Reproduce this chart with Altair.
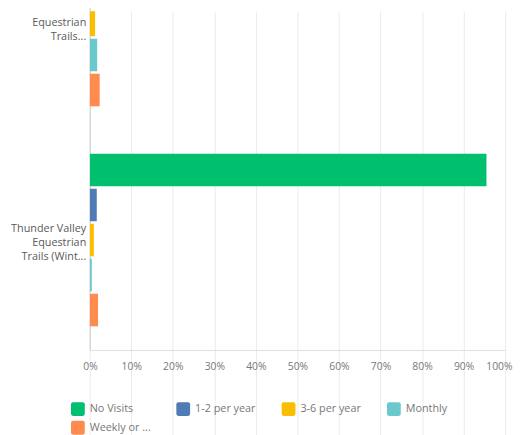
import altair as alt
import pandas as pd

categories = ["Equestrian Trails...", "Thunder Valley Equestrian Trails (Wint..."]
label_lines = [["", "Equestrian", "Trails..."],
               ["Thunder Valley", "Equestrian", "Trails (Wint..."]]
series = ["No Visits", "1-2 per year", "3-6 per year", "Monthly", "Weekly or ..."]
colors = ["#00bf6f", "#507cb6", "#f9be00", "#6bc8cd", "#ff8b4f"]
# percentages per category, in series order
values_top = [0.0, 0.0, 1.3, 1.8, 2.4]
values_thunder = [95.5, 1.7, 1.0, 0.5, 2.0]

rows = []
for cat, vals in zip(categories, [values_top, values_thunder]):
    for s, v in zip(series, vals):
        rows.append({"category": cat, "series": s, "value": v / 100})
df = pd.DataFrame(rows)

expr_parts = []
for cat, lines in zip(categories, label_lines):
    arr = "[" + ",".join("'" + l + "'" for l in lines) + "]"
    expr_parts.append((cat, arr))
label_expr = "datum.value == '{}' ? {} : {}".format(expr_parts[0][0], expr_parts[0][1], expr_parts[1][1])

rounded_square = "M-0.7,-1H0.7Q1,-1 1,-0.7V0.7Q1,1 0.7,1H-0.7Q-1,1 -1,0.7V-0.7Q-1,-1 -0.7,-1Z"

font = "Open Sans"

chart = alt.Chart(df).mark_bar(clip=True).encode(
    x=alt.X("value:Q",
            scale=alt.Scale(domain=[0, 1], nice=False),
            axis=alt.Axis(values=[i / 10 for i in range(11)], format=".0%", title=None,
                          grid=True, gridColor="#ebebeb", ticks=False, domainColor="#e0e0e0",
                          labelFont=font, labelFontSize=10.5, labelColor="#777",
                          labelPadding=12, labelFlush=True, labelFlushOffset=7)),
    y=alt.Y("category:N", sort=categories,
            scale=alt.Scale(range=[-103, 344], paddingInner=0, paddingOuter=0),
            axis=alt.Axis(title=None, ticks=False, domainColor="#cccccc",
                          labelExpr=label_expr, labelFont=font, labelFontSize=11,
                          labelColor="#5a5a5a", labelPadding=4, labelLimit=200,
                          labelLineHeight=14, labelOffset=-11)),
    yOffset=alt.YOffset("series:N", sort=series,
                        scale=alt.Scale(paddingInner=0.07, paddingOuter=0.68)),
    color=alt.Color("series:N", sort=series,
                    scale=alt.Scale(domain=series, range=colors),
                    legend=alt.Legend(title=None, orient="none", legendX=-19, legendY=397,
                                      direction="horizontal", columns=4, gridAlign="all",
                                      columnPadding=25, rowPadding=5, padding=0,
                                      symbolType=rounded_square, symbolSize=196,
                                      symbolStrokeWidth=0, symbolOpacity=1,
                                      labelOffset=5, labelFont=font, labelFontSize=11,
                                      labelColor="#777")),
).properties(
    width=422,
    height=344,
    autosize=alt.AutoSizeParams(type="none"),
    padding={"left": 83, "top": 0, "right": 9, "bottom": 83},
).configure_view(stroke=None)

chart.save("out.html", embed_options={"renderer": "svg", "actions": False})
